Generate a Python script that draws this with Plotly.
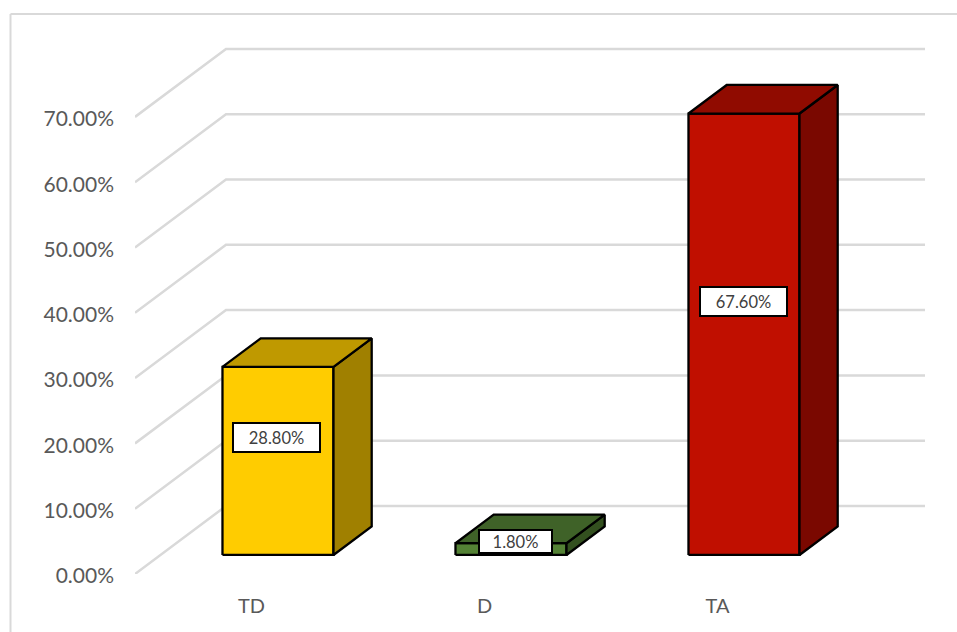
import plotly.graph_objects as go

# Data
categories = ["TD", "D", "TA"]
values = [28.8, 1.8, 67.6]
value_labels = ["28.80%", "1.80%", "67.60%"]
y_ticks = [0, 10, 20, 30, 40, 50, 60, 70]
y_tick_labels = ["0.00%", "10.00%", "20.00%", "30.00%", "40.00%", "50.00%", "60.00%", "70.00%"]

# Colours per bar
front_colors = ["#FFCC00", "#548235", "#C00F00"]
top_colors = ["#BF9900", "#3F6228", "#900B00"]
side_colors = ["#A08000", "#33501F", "#7A0800"]

# Oblique projection, in axis units
W, H = 957, 632
L, R, T, B = 135, 925, 44, 574
PX_X = 233.0
PX_Y = 6.53
XMIN = -0.5
XMAX = XMIN + (R - L) / PX_X
YMAX = (B - T) / PX_Y
DX = 91 / PX_X
DY = 68 / PX_Y
BAR_HALF = 111 / PX_X / 2
BAR_SHIFT = 1 / PX_X
D_FRONT = 0.28
D_BACK = 0.70


def proj(x, v, d):
    return x + d * DX, v + d * DY


def px_x(p):
    return (p - L) / PX_X + XMIN


def px_y(p):
    return (B - p) / PX_Y


fig = go.Figure()
GRID = "#D9D9D9"

for t in y_ticks:
    x0, y0 = proj(XMIN, t, 0)
    x1, y1 = proj(XMIN, t, 1)
    fig.add_trace(go.Scatter(x=[x0, x1, XMAX], y=[y0, y1, y1], mode="lines",
                             line=dict(color=GRID, width=2.5), hoverinfo="skip", showlegend=False))


def poly(points, color):
    xs = [p[0] for p in points] + [points[0][0]]
    ys = [p[1] for p in points] + [points[0][1]]
    fig.add_trace(go.Scatter(x=xs, y=ys, mode="lines", fill="toself", fillcolor=color,
                             line=dict(color="#000000", width=2.3), hoverinfo="skip", showlegend=False))


for i, v in enumerate(values):
    a, b = i - BAR_HALF + BAR_SHIFT, i + BAR_HALF + BAR_SHIFT
    poly([proj(a, 0, D_FRONT), proj(b, 0, D_FRONT), proj(b, v, D_FRONT), proj(a, v, D_FRONT)], front_colors[i])
    poly([proj(b, 0, D_FRONT), proj(b, 0, D_BACK), proj(b, v, D_BACK), proj(b, v, D_FRONT)], side_colors[i])
    poly([proj(a, v, D_FRONT), proj(b, v, D_FRONT), proj(b, v, D_BACK), proj(a, v, D_BACK)], top_colors[i])

# Data label boxes, pixel layout (centre x, centre y, box w, box h)
label_boxes = [(276.5, 437.5, 85, 27), (515, 541, 71, 21), (743.5, 301, 85, 27)]
annotations = []
for text, (cx, cy, w, h) in zip(value_labels, label_boxes):
    annotations.append(dict(x=px_x(cx), y=px_y(cy), xref="x", yref="y", text=text, showarrow=False,
                            font=dict(family="Lato, Carlito, sans-serif", size=16.5, color="#404040"),
                            bgcolor="#FFFFFF", bordercolor="#000000", borderwidth=2, borderpad=0,
                            width=w, height=h, align="center", valign="middle",
                            xanchor="center", yanchor="middle"))

pw, ph = R - L, B - T
shapes = [
    dict(type="line", xref="paper", yref="paper", x0=(10.5 - L) / pw, x1=(10.5 - L) / pw,
         y0=(B - 14) / ph, y1=(B - 640) / ph, line=dict(color=GRID, width=2)),
    dict(type="line", xref="paper", yref="paper", x0=(10.5 - L) / pw, x1=(960 - L) / pw,
         y0=(B - 14) / ph, y1=(B - 14) / ph, line=dict(color=GRID, width=2)),
]

fig.update_layout(
    width=W, height=H, margin=dict(l=L, r=W - R, t=T, b=H - B, pad=0),
    paper_bgcolor="#FFFFFF", plot_bgcolor="#FFFFFF", showlegend=False,
    font=dict(family="Lato, Carlito, sans-serif", color="#595959", size=21),
    annotations=annotations, shapes=shapes,
    xaxis=dict(range=[XMIN, XMAX], tickmode="array", tickvals=list(range(len(categories))),
               ticktext=categories, showgrid=False, zeroline=False, showline=False, ticks="",
               ticklabelstandoff=18, tickfont=dict(size=20)),
    yaxis=dict(range=[0, YMAX], tickmode="array", tickvals=y_ticks, ticktext=y_tick_labels,
               showgrid=False, zeroline=False, showline=False, ticks="", ticklabelstandoff=20,
               ticklabelshift=2, tickfont=dict(size=21)),
)

fig.write_html("out.html", config={"displayModeBar": False},
               post_script="document.body.style.margin='0';document.documentElement.style.overflow='hidden';")
